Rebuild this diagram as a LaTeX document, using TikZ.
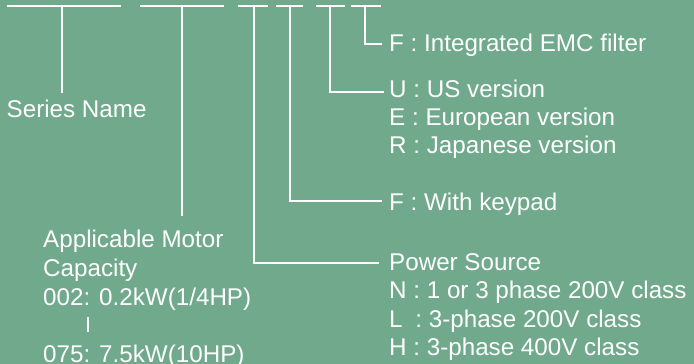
\documentclass[tikz,border=0pt]{standalone}
\usepackage{fontspec}
\setmainfont{Liberation Sans}
\definecolor{bg}{HTML}{70A98C}
\begin{document}
\begin{tikzpicture}[x=1pt,y=-1pt,
  conn/.style={draw=white,line width=1.3pt},
  lbl/.style={anchor=base west,inner sep=0pt,text=white,font=\fontsize{24.2}{28}\selectfont}]
\fill[bg] (0,0) rectangle (694,364);
\useasboundingbox (0,0) rectangle (694,364);
% top bars
\foreach \n/\a/\b in {1/7/121,2/140/224,3/238/268,4/276/303,5/316/345,6/351/381}{
  \coordinate (l\n) at (\a,6); \coordinate (r\n) at (\b,6);
  \draw[conn] (l\n) -- (r\n);
}
\coordinate (b1) at (62,6);
\coordinate (b2) at (182,6);
\coordinate (b3) at (254,6);
\coordinate (b4) at (290,6);
\coordinate (b5) at (330,6);
\coordinate (b6) at (365,6);
% labels
\node[lbl] (series) at (6.5,117) {Series Name};
\node[lbl] (motor1) at (43,247) {Applicable Motor};
\node[lbl] (motor2) at (43,276) {Capacity};
\node[lbl] (motor3) at (43,305) {002: 0.2kW(1/4HP)};
\node[lbl] (motor5) at (43,362) {075: 7.5kW(10HP)};
\node[lbl] (emc) at (389,51) {F : Integrated EMC filter};
\node[lbl] (ver1) at (389,97) {U : US version};
\node[lbl] (ver2) at (389,125) {E : European version};
\node[lbl] (ver3) at (389,153) {R : Japanese version};
\node[lbl] (kp) at (389,210) {F : With keypad};
\node[lbl] (ps) at (389,270) {Power Source};
\node[lbl] (ps1) at (389,298) {N : 1 or 3 phase 200V class};
\node[lbl] (ps2) at (389,327) {L\kern0.25em\ : 3-phase 200V class};
\node[lbl] (ps3) at (389,355) {H : 3-phase 400V class};
% range bar
\coordinate (rt) at (88,317);
\coordinate (rb) at (88,332);
\draw[white,line width=1.3pt] (rt) -- (rb);
% connectors
\draw[conn] (b1) -- (62,93);
\draw[conn] (b2) -- (182,216);
\draw[conn] (b3) |- ([shift={(-10,-7)}]ps.base west);
\draw[conn] (b4) |- ([shift={(-7,-9)}]kp.base west);
\draw[conn] (b5) |- ([shift={(-5,-5)}]ver1.base west);
\draw[conn] (b6) |- ([shift={(-7,-7)}]emc.base west);
\end{tikzpicture}
\end{document}
